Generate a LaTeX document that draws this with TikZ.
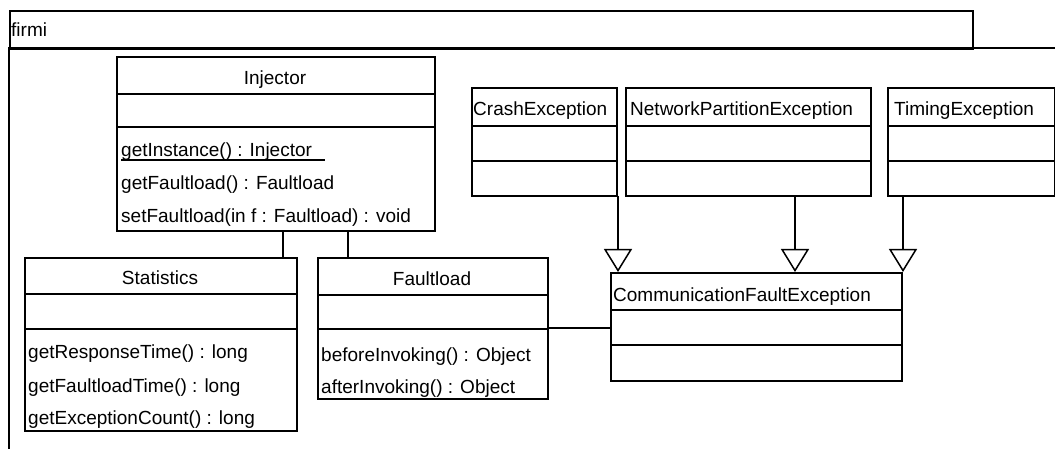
\documentclass[tikz,border=0pt]{standalone}
\usepackage{fontspec}
\setmainfont{Liberation Sans}
\usetikzlibrary{arrows.meta,calc}
\newcommand{\umlcls}[7]{%
  \node[clsbox, minimum width={#4pt-#2pt}, minimum height={#5pt-#3pt}] (#1) at (#2,#3) {};
  \draw[divline] (#2,#6) -- (#4,#6);
  \draw[divline] (#2,#7) -- (#4,#7);
}
\begin{document}
\begin{tikzpicture}[x=1pt,y=-1pt,
  clsbox/.style={draw, line width=1.6pt, anchor=north west, inner sep=0pt, fill=white},
  divline/.style={line width=1.4pt},
  pkgline/.style={line width=1.6pt},
  txt/.style={anchor=base west, inner sep=0pt, font=\fontsize{19}{22}\selectfont},
  ctxt/.style={anchor=base, inner sep=0pt, font=\fontsize{19}{22}\selectfont},
  assoc/.style={line width=1.5pt},
  gen/.style={line width=1.5pt, -{Triangle[open, length=23pt, width=28pt, fill=white]}}]
\useasboundingbox (0,0) rectangle (1055,449);
% package
\node[draw, line width=1.6pt, anchor=north west, inner sep=0pt, minimum width=963pt, minimum height=38pt] (tab) at (9,10) {};
\node[txt] (pkgname) at (11,37) {firmi};
\draw[pkgline] (1055,48) -- (9,48) -- (9,449);
% classes
\umlcls{inj}{116}{56}{434}{230}{94}{127}
\umlcls{stat}{24}{257}{296}{430}{294}{329}
\umlcls{fl}{317}{257}{547}{398}{295}{329}
\umlcls{crash}{471}{87}{616}{195}{126}{161}
\umlcls{net}{625}{87}{870}{195}{126}{161}
\umlcls{tim}{887}{87}{1054}{195}{126}{161}
\umlcls{cfe}{610}{272}{901}{380}{310}{345}
% texts
\node[ctxt] (injname) at (275,85) {Injector};
\node[txt] (gi) at (121,157) {getInstance() : Injector};
\draw[line width=1.3pt] ($(gi.base west)+(0,3)$) -- ++(204,0);
\node[txt] (gf) at (121,190) {getFaultload() : Faultload};
\node[txt] (sf) at (121,223) {setFaultload(in f : Faultload) : void};
\node[ctxt] (statname) at (160,284) {Statistics};
\node[txt] (m1) at (28,358) {getResponseTime() : long};
\node[txt] (m2) at (28,392) {getFaultloadTime() : long};
\node[txt] (m3) at (28,424) {getExceptionCount() : long};
\node[ctxt] (flname) at (432,285) {Faultload};
\node[txt] (m4) at (321,361) {beforeInvoking() : Object};
\node[txt] (m5) at (321,393) {afterInvoking() : Object};
\node[txt] (crashname) at (473,116) {CrashException};
\node[txt] (netname) at (630,116) {NetworkPartitionException};
\node[txt] (timname) at (894,116) {TimingException};
\node[txt] (cfename) at (613,301) {CommunicationFaultException};
% connectors
\coordinate (s1) at (283,0);
\coordinate (s2) at (348,0);
\coordinate (h1) at (0,328);
\draw[assoc] (inj.south -| s1) -- (stat.north -| s1);
\draw[assoc] (inj.south -| s2) -- (fl.north -| s2);
\draw[assoc] (fl.east |- h1) -- (cfe.west |- h1);
\coordinate (g1) at (618,196);
\coordinate (g2) at (795,196);
\coordinate (g3) at (903,196);
\draw[gen] (g1) -- (g1 |- cfe.north);
\draw[gen] (g2) -- (g2 |- cfe.north);
\draw[gen] (g3) -- (g3 |- cfe.north);
\end{tikzpicture}
\end{document}
